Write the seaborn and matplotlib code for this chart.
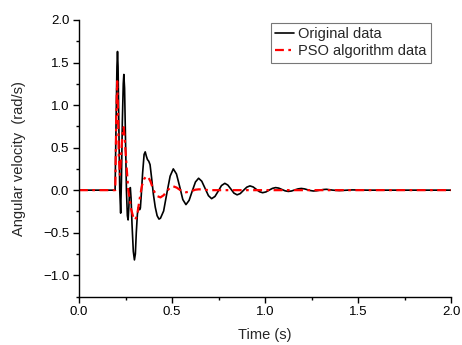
import numpy as np
import pandas as pd
import matplotlib
matplotlib.use("Agg")
import matplotlib.pyplot as plt
from matplotlib.ticker import MultipleLocator
import seaborn as sns

# ---- data ----
orig_t = [0.0, 0.194, 0.200, 0.204, 0.207, 0.210, 0.214, 0.219, 0.224, 0.228,
          0.233, 0.238, 0.241, 0.245, 0.250, 0.255, 0.260, 0.264, 0.268, 0.272,
          0.276, 0.280, 0.285, 0.292, 0.298, 0.303, 0.308, 0.314, 0.320, 0.326,
          0.330, 0.335, 0.342, 0.350, 0.356, 0.362, 0.368, 0.375, 0.382, 0.390,
          0.400, 0.410, 0.420, 0.430, 0.438, 0.455, 0.472, 0.490, 0.507, 0.524,
          0.541, 0.558, 0.575, 0.592, 0.609, 0.626, 0.643, 0.660, 0.678, 0.696,
          0.713, 0.731, 0.749, 0.766, 0.784, 0.800, 0.817, 0.833, 0.850, 0.867,
          0.884, 0.902, 0.919, 0.936, 0.953, 0.970, 0.987, 1.005, 1.022, 1.040,
          1.057, 1.074, 1.091, 1.108, 1.125, 1.143, 1.160, 1.178, 1.195, 1.212,
          1.228, 1.245, 1.260, 1.278, 1.295, 1.312, 1.330, 1.365, 1.400, 1.470,
          1.550, 2.0]
orig_v = [0.0, 0.0, 0.9, 1.45, 1.63, 1.45, 0.8, 0.0, -0.27, 0.1,
          0.8, 1.25, 1.36, 1.2, 0.6, 0.0, -0.3, -0.35, -0.2, 0.0,
          0.03, -0.1, -0.4, -0.72, -0.82, -0.75, -0.5, -0.28, -0.2, -0.23,
          -0.21, -0.05, 0.2, 0.42, 0.45, 0.40, 0.36, 0.34, 0.30, 0.15,
          -0.05, -0.2, -0.3, -0.34, -0.33, -0.245, -0.04, 0.165, 0.25, 0.19,
          0.045, -0.11, -0.17, -0.12, -0.01, 0.096, 0.14, 0.105, 0.02, -0.065,
          -0.10, -0.074, -0.01, 0.054, 0.08, 0.06, 0.012, -0.035, -0.055, -0.04,
          -0.003, 0.035, 0.05, 0.038, 0.01, -0.018, -0.03, -0.021, 0.0, 0.021,
          0.03, 0.024, 0.008, -0.008, -0.015, -0.01, 0.003, 0.015, 0.02, 0.015,
          0.005, -0.005, -0.01, -0.007, 0.0, 0.007, 0.01, 0.0, -0.005, 0.003,
          0.0, 0.0]

pso_t = [0.0, 0.195, 0.200, 0.205, 0.209, 0.214, 0.220, 0.226, 0.233, 0.240,
         0.246, 0.255, 0.265, 0.280, 0.292, 0.302, 0.312, 0.325, 0.338, 0.350,
         0.360, 0.372, 0.385, 0.400, 0.420, 0.438, 0.455, 0.475, 0.490, 0.507,
         0.525, 0.545, 0.560, 0.575, 0.600, 0.625, 0.645, 0.700, 2.0]
pso_v = [0.0, 0.0, 0.8, 1.28, 1.0, 0.4, 0.18, 0.4, 0.65, 0.74,
         0.6, 0.3, 0.0, -0.22, -0.32, -0.35, -0.30, -0.12, 0.05, 0.13,
         0.16, 0.155, 0.10, 0.0, -0.07, -0.085, -0.06, -0.005, 0.03, 0.045,
         0.03, 0.0, -0.02, -0.025, -0.015, 0.005, 0.01, 0.0, 0.0]

series_labels = ["Original data", "PSO algorithm data"]
xlabel = "Time (s)"
ylabel = "Angular velocity  (rad/s)"

sns.set_theme(style="ticks")
plt.rcParams["font.family"] = ["Liberation Sans", "DejaVu Sans"]

fig = plt.figure(figsize=(4.62, 3.45), dpi=100)
ax = fig.add_axes([79 / 462, 1 - 296.5 / 345, (451 - 79) / 462, (296.5 - 20) / 345])

df_o = pd.DataFrame({"t": orig_t, "v": orig_v})
df_p = pd.DataFrame({"t": pso_t, "v": pso_v})

sns.lineplot(data=df_o, x="t", y="v", ax=ax, color="black", lw=1.2,
             sort=False, estimator=None, label=series_labels[0])
sns.lineplot(data=df_p, x="t", y="v", ax=ax, color="#ff0000", lw=1.6,
             sort=False, estimator=None, label=series_labels[1],
             dashes=False)
ax.lines[1].set_dashes([4, 2, 1.2, 2])

ax.set_xlim(0, 2.0)
ax.set_ylim(-1.25, 2.0)
ax.xaxis.set_major_locator(MultipleLocator(0.5))
ax.xaxis.set_minor_locator(MultipleLocator(0.25))
ax.yaxis.set_major_locator(MultipleLocator(0.5))
ax.yaxis.set_minor_locator(MultipleLocator(0.25))
ax.set_yticks([-1.0, -0.5, 0.0, 0.5, 1.0, 1.5, 2.0])
ax.tick_params(which="major", direction="out", length=4, width=1.0,
               labelsize=9.5, pad=3, color="black", labelcolor="black")
ax.tick_params(which="minor", direction="out", length=2.5, width=1.0,
               color="black")
for s in ["top", "right"]:
    ax.spines[s].set_visible(False)
for s in ["left", "bottom"]:
    ax.spines[s].set_color("black")
    ax.spines[s].set_linewidth(1.0)

ax.set_xlabel(xlabel, fontsize=10.5, labelpad=7)
ax.set_ylabel(ylabel, fontsize=10.5, labelpad=12)

leg = ax.legend(loc="upper right", bbox_to_anchor=(431 / 462, 1 - 23 / 345),
                bbox_transform=fig.transFigure, fontsize=10.5, frameon=True,
                fancybox=False, edgecolor="#555555", borderpad=0.3,
                labelspacing=0.2, handlelength=1.3, handletextpad=0.3,
                borderaxespad=0)
leg.get_frame().set_linewidth(0.8)

fig.savefig("out.png", dpi=100)
